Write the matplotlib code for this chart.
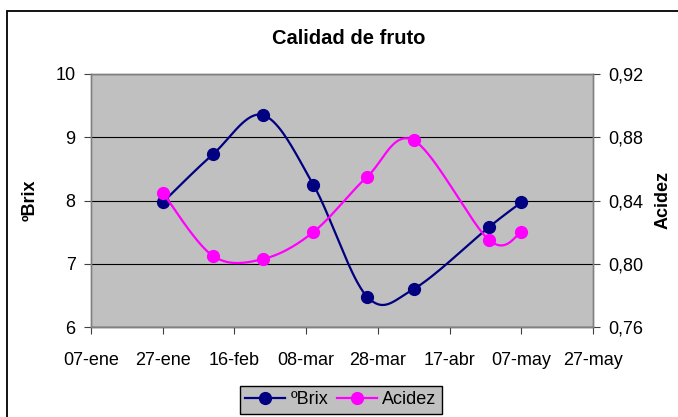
import numpy as np
import matplotlib
matplotlib.use("Agg")
import matplotlib.pyplot as plt
import matplotlib.dates as mdates
from datetime import date, timedelta
from matplotlib.patches import Rectangle

plt.rcParams["font.family"] = ["Liberation Sans", "DejaVu Sans"]

# datos
fechas = ["2009-01-27", "2009-02-10", "2009-02-24", "2009-03-10",
          "2009-03-25", "2009-04-07", "2009-04-28", "2009-05-07"]
brix = [7.97, 8.73, 9.35, 8.25, 6.48, 6.60, 7.58, 7.97]
acidez = [0.845, 0.805, 0.803, 0.820, 0.855, 0.878, 0.815, 0.820]
etiquetas_x = ["07-ene", "27-ene", "16-feb", "08-mar", "28-mar", "17-abr", "07-may", "27-may"]
ticks_brix = [6, 7, 8, 9, 10]
ticks_acidez = [0.76, 0.80, 0.84, 0.88, 0.92]


def suave(x, y, sx, sy, n=40):
    # curva suavizada tipo Excel (Bezier con tangentes Catmull-Rom)
    P = np.column_stack([np.asarray(x) * sx, np.asarray(y) * sy])
    out = [P[0]]
    t = np.linspace(0, 1, n)[1:, None]
    for i in range(len(P) - 1):
        p0 = P[max(i - 1, 0)]
        p1 = P[i]
        p2 = P[i + 1]
        p3 = P[min(i + 2, len(P) - 1)]
        c1 = p1 + (p2 - p0) / 6
        c2 = p2 - (p3 - p1) / 6
        seg = (1 - t) ** 3 * p1 + 3 * (1 - t) ** 2 * t * c1 + 3 * (1 - t) * t ** 2 * c2 + t ** 3 * p2
        out.extend(seg)
    out = np.array(out)
    return out[:, 0] / sx, out[:, 1] / sy


x = mdates.date2num([date.fromisoformat(f) for f in fechas])
inicio = date(2009, 1, 7)
xt = mdates.date2num([inicio + timedelta(days=20 * i) for i in range(len(etiquetas_x))])

fig = plt.figure(figsize=(6.78, 4.17), dpi=100)
ax = fig.add_axes([91 / 678, 1 - 327 / 417, 502 / 678, 253 / 417])
ax2 = ax.twinx()

ax.set_facecolor("#C0C0C0")
ax.set_xlim(xt[0], xt[-1])
ax.set_ylim(6, 10)
ax2.set_ylim(0.76, 0.92)

ancho = 502 / (xt[-1] - xt[0])
alto = 253 / 4
alto2 = 253 / 0.16

navy = "#000080"
magenta = "#FF00FF"
xs, ys = suave(x, brix, ancho, alto)
ax.plot(xs, ys, color=navy, lw=1.6)
ax.plot(x, brix, "o", color=navy, ms=8.5)
xs2, ys2 = suave(x, acidez, ancho, alto2)
ax2.plot(xs2, ys2, color=magenta, lw=1.6)
ax2.plot(x, acidez, "o", color=magenta, ms=8.5)

ax.set_xticks(xt)
ax.set_xticklabels(etiquetas_x)
ax.set_yticks(ticks_brix)
ax.set_yticklabels([str(v) for v in ticks_brix])
ax2.set_yticks(ticks_acidez)
ax2.set_yticklabels([f"{v:.2f}".replace(".", ",") for v in ticks_acidez])

ax.grid(axis="y", color="black", lw=0.8)
ax.set_axisbelow(True)
for a in (ax, ax2):
    for s in a.spines.values():
        s.set_color("#808080")
        s.set_linewidth(1.0)
ax.spines["bottom"].set_color("#404040")

ax.tick_params(axis="x", length=5, pad=13, labelsize=13, color="#404040")
ax.tick_params(axis="y", length=5, pad=6, labelsize=13, color="#404040")
ax2.tick_params(axis="y", length=5, pad=6, labelsize=13, color="#404040")

fig.text(30 / 678, 1 - 200 / 417, "ºBrix", rotation=90, fontsize=13, fontweight="bold",
         ha="center", va="center")
fig.text(663 / 678, 1 - 200 / 417, "Acidez", rotation=90, fontsize=13, fontweight="bold",
         ha="center", va="center")
fig.text(349 / 678, 1 - 39 / 417, "Calidad de fruto", fontsize=14.5, fontweight="bold",
         ha="center", va="center")

h1 = ax.plot([], [], "-o", color=navy, lw=1.6, ms=8.5, label="ºBrix")[0]
h2 = ax2.plot([], [], "-o", color=magenta, lw=1.6, ms=8.5, label="Acidez")[0]
leg = fig.legend([h1, h2], ["ºBrix", "Acidez"], loc="upper center",
                 bbox_to_anchor=(341 / 678, 1 - 386 / 417), ncol=2, fontsize=13,
                 frameon=True, fancybox=False, handlelength=2.2, handletextpad=0.3,
                 columnspacing=0.5, borderpad=0.3, borderaxespad=0)
leg.get_frame().set_facecolor("#C0C0C0")
leg.get_frame().set_edgecolor("black")
leg.get_frame().set_alpha(1)

fig.patches.append(Rectangle((7 / 678, -0.1), 1.0, 1 - 11 / 417 + 0.1, transform=fig.transFigure,
                             fill=False, edgecolor="black", lw=1.3))

fig.savefig("out.png", dpi=100)
